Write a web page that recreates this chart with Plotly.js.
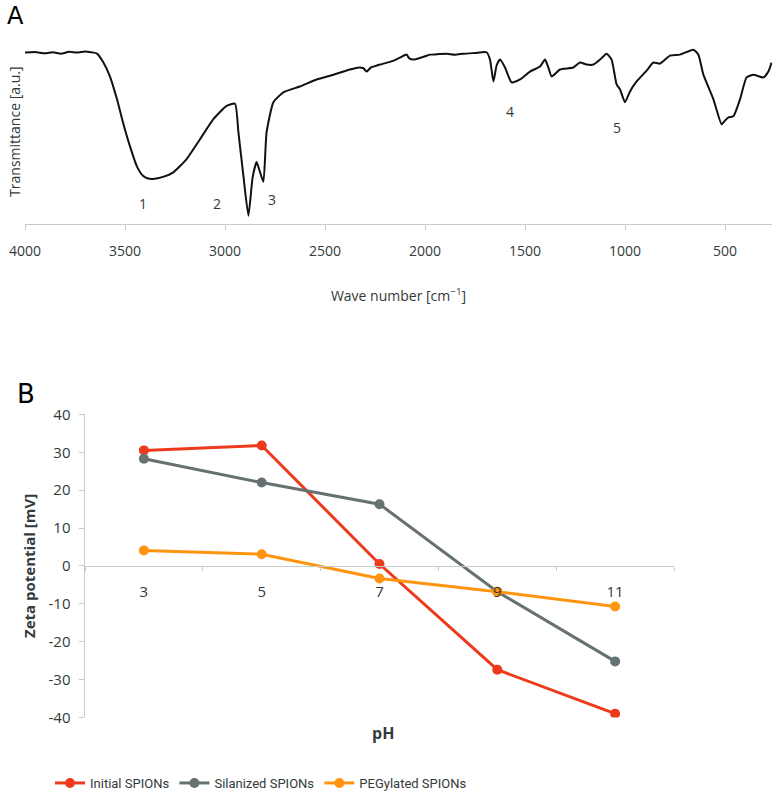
<!DOCTYPE html>
<html><head><meta charset="utf-8">
<script src="https://cdn.plot.ly/plotly-3.0.1.min.js"></script>
<style>html,body{margin:0;padding:0;background:#fff}</style>
</head><body><div id="chart" style="width:774px;height:798px"></div>
<script>
// ---- Panel A: FTIR spectrum ----
const wavenumber = [4000,3950,3900,3860,3820,3780,3740,3700,3670,3640,3610,3575,3540,3510,3475,3440,3410,3385,3360,3310,3258,3192,3125,3058,2992,2950,2933,2908,2883,2862,2842,2825,2808,2792,2758,2708,2625,2542,2458,2375,2330,2308,2292,2270,2258,2225,2160,2125,2092,2080,2058,2000,1975,1930,1892,1850,1808,1750,1692,1675,1658,1642,1625,1600,1567,1525,1475,1425,1400,1383,1367,1325,1258,1225,1192,1158,1125,1092,1067,1042,1025,1000,975,942,892,858,825,775,725,658,633,608,558,517,500,483,458,425,392,358,308,283,267];
const transmittance = [93.0,93.3,92.6,93.2,92.4,93.5,93.0,93.6,93.2,92.5,88.0,80.0,67.6,55.0,42.0,31.0,26.0,24.5,24.3,25.4,27.9,35.1,45.9,56.8,64.0,65.2,49.7,26.0,4.3,25.0,33.5,28.0,22.7,49.7,66.0,71.4,74.6,78.4,81.0,83.8,84.9,84.5,82.7,85.0,85.4,86.5,88.5,90.3,92.0,90.0,89.2,91.0,91.9,92.2,92.4,91.9,92.4,92.8,93.2,89.2,77.3,86.0,89.2,84.9,76.8,78.4,82.7,85.4,89.2,84.9,80.0,83.8,84.9,87.6,86.5,86.5,89.2,92.4,89.2,75.7,73.0,66.0,71.9,77.3,83.2,87.6,87.0,91.4,91.9,94.6,91.9,81.0,67.6,54.0,56.0,57.8,58.4,67.6,79.5,81.0,79.5,82.7,87.6];
const spectrumTicks = [4000,3500,3000,2500,2000,1500,1000,500];
const peakLabels = ['1','2','3','4','5'];
const peakWavenumber = [3410,3040,2765,1575,1040];
const peakTransmittance = [11,11,13,61,52];

// ---- Panel B: zeta potential ----
const pH = ['3','5','7','9','11'];
const initialSPIONs = [30.5,31.8,0.5,-27.4,-39.0];
const silanizedSPIONs = [28.3,22.0,16.3,-6.8,-25.2];
const pegylatedSPIONs = [4.1,3.1,-3.3,-6.8,-10.7];
const zetaTicks = [-40,-30,-20,-10,0,10,20,30,40];
const zetaTickText = ['-40','-30','-20','-10','0','10','20','30','40'];

const W = 774, H = 798;
const font = 'Open Sans, DejaVu Sans, sans-serif';
const txt = '#333a3a';
const axisLine = '#c5cccc';

const yB = [-40, 40];
const yBdom = [(H-722)/H, (H-417)/H];
const zeroPos = yBdom[0] + (0 - yB[0])/(yB[1]-yB[0])*(yBdom[1]-yBdom[0]);

const traces = [
  {x: wavenumber, y: transmittance, xaxis:'x', yaxis:'y', mode:'lines',
   line:{color:'#111111', width:2, shape:'spline', smoothing:0.5}, showlegend:false, hoverinfo:'skip'},
  {x: pH, y: initialSPIONs, xaxis:'x2', yaxis:'y2', mode:'lines+markers', name:'Initial SPIONs',
   line:{color:'#ee3a1c', width:3}, marker:{color:'#ee3a1c', size:10}},
  {x: pH, y: silanizedSPIONs, xaxis:'x2', yaxis:'y2', mode:'lines+markers', name:'Silanized SPIONs',
   line:{color:'#667171', width:3}, marker:{color:'#667171', size:10}},
  {x: pH, y: pegylatedSPIONs, xaxis:'x2', yaxis:'y2', mode:'lines+markers', name:'PEGylated SPIONs',
   line:{color:'#ff9410', width:3}, marker:{color:'#ff9410', size:10}}
];

const annotations = peakLabels.map((t,i)=>({
  x: peakWavenumber[i], y: peakTransmittance[i], xref:'x', yref:'y', text:t, showarrow:false,
  font:{family:font, size:14, color:txt}
}));
annotations.push({x:5/W, y:1-16/H, xref:'paper', yref:'paper', text:'A', showarrow:false, xanchor:'left', yanchor:'middle', font:{family:'DejaVu Sans, sans-serif', size:24, color:'#000'}});
annotations.push({x:15/W, y:1-396/H, xref:'paper', yref:'paper', text:'B', showarrow:false, xanchor:'left', yanchor:'middle', font:{family:'DejaVu Sans, sans-serif', size:26, color:'#000'}});
annotations.push({x:383/W, y:1-738/H, xref:'paper', yref:'paper', text:'<b>pH</b>', showarrow:false, xanchor:'center', yanchor:'middle', font:{family:font, size:16, color:txt}});

const layout = {
  width: W, height: H,
  margin:{l:0, r:0, t:0, b:0},
  paper_bgcolor:'#fff', plot_bgcolor:'rgba(0,0,0,0)',
  showlegend:true,
  xaxis:{domain:[25/W, 772/W], anchor:'y', range:[4000,265], showgrid:false, zeroline:false,
    showline:true, linecolor:axisLine, linewidth:1.5, ticks:'outside', ticklen:5, tickcolor:axisLine,
    tickvals: spectrumTicks, tickfont:{family:font, size:14, color:txt}, ticklabelstandoff:9,
    title:{text:'Wave number [cm<sup>−1</sup>]', font:{family:font, size:14, color:txt}, standoff:32}},
  yaxis:{domain:[(H-225)/H, (H-40)/H], anchor:'x', range:[0,100], showgrid:false, zeroline:false,
    showline:false, showticklabels:false, ticks:'',
    title:{text:'Transmittance [a.u.]', font:{family:font, size:14, color:txt}, standoff:0}},
  xaxis2:{domain:[85/W, 674/W], anchor:'free', position: zeroPos, type:'category', range:[-0.5,4.5],
    showgrid:false, zeroline:false, showline:true, linecolor:axisLine, linewidth:1.5,
    ticks:'outside', tickson:'boundaries', ticklen:4, tickcolor:axisLine, ticklabelstandoff:12,
    tickfont:{family:font, size:15, color:txt}},
  yaxis2:{domain:yBdom, anchor:'x2', range:yB, showgrid:false, zeroline:false,
    showline:true, linecolor:axisLine, linewidth:1.5, ticks:'outside', ticklen:5, tickcolor:axisLine,
    tickvals: zetaTicks, ticktext: zetaTickText, tickfont:{family:font, size:15, color:txt}, ticklabelstandoff:5,
    title:{text:'<b>Zeta potential [mV]</b>', font:{family:font, size:15, color:txt}, standoff:9}},
  legend:{orientation:'h', x:50/W, xanchor:'left', y:(H-788)/H, yanchor:'middle',
    font:{family:'Roboto, sans-serif', size:13, color:txt}, bgcolor:'rgba(0,0,0,0)'},
  annotations: annotations
};

Plotly.newPlot('chart', traces, layout, {displayModeBar:false, staticPlot:true});
</script></body></html>
